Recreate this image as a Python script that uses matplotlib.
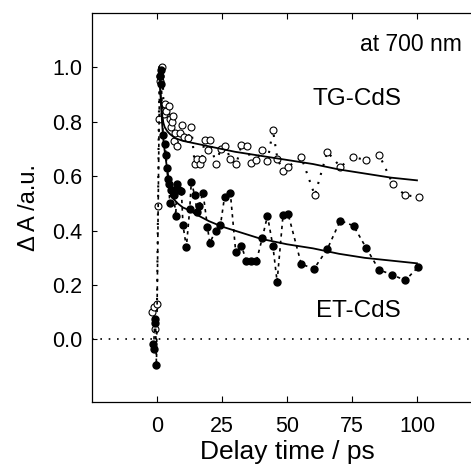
import matplotlib
matplotlib.use("Agg")
import matplotlib.pyplot as plt

plt.rcParams["font.family"] = ["Liberation Sans", "DejaVu Sans"]

# TG-CdS (open circles)
tg_t = [-2.0, -1.3, -0.8, 0.0, 0.4, 0.7, 1.0, 1.3, 2.1, 2.6, 3.2, 3.5, 4.5, 4.9,
        5.3, 5.8, 6.2, 6.6, 7.1, 7.6, 8.7, 9.6, 10.5, 11.9, 13.2, 14.5, 15.5,
        16.4, 17.3, 18.3, 19.6, 20.3, 22.6, 24.5, 26.3, 28.2, 30.5, 32.5, 34.6,
        36.3, 38.2, 40.5, 42.5, 44.6, 46.3, 48.5, 50.4, 55.5, 60.7, 65.5, 70.5,
        75.4, 80.5, 85.4, 90.8, 95.5, 100.7]
tg_a = [0.10, 0.12, 0.04, 0.13, 0.49, 0.81, 0.95, 0.97, 1.00, 0.83, 0.865, 0.84,
        0.86, 0.81, 0.78, 0.80, 0.82, 0.73, 0.76, 0.71, 0.76, 0.79, 0.745, 0.74,
        0.78, 0.645, 0.665, 0.645, 0.665, 0.735, 0.695, 0.735, 0.645, 0.70,
        0.71, 0.665, 0.645, 0.715, 0.71, 0.65, 0.66, 0.695, 0.655, 0.77, 0.665,
        0.62, 0.635, 0.67, 0.53, 0.69, 0.635, 0.67, 0.66, 0.68, 0.57, 0.53, 0.525]

# ET-CdS (filled circles)
et_t = [-1.5, -1.3, -0.9, -0.6, -0.2, 1.0, 1.5, 1.7, 2.3, 3.0, 3.5, 3.8, 4.2,
        4.6, 4.9, 5.5, 5.8, 6.5, 7.2, 7.7, 8.5, 9.4, 10.0, 11.3, 12.6, 13.2,
        14.5, 15.4, 16.2, 17.7, 19.4, 20.3, 22.6, 24.4, 26.0, 28.2, 30.3, 32.5,
        34.4, 36.3, 38.2, 40.5, 42.5, 44.6, 46.2, 48.5, 50.4, 55.5, 60.4, 65.5,
        70.5, 75.6, 80.5, 85.4, 90.5, 95.5, 100.4]
et_a = [-0.015, -0.035, 0.06, 0.075, -0.095, 0.97, 0.99, 0.94, 0.75, 0.72, 0.68,
        0.63, 0.59, 0.57, 0.50, 0.55, 0.55, 0.53, 0.455, 0.57, 0.55, 0.545, 0.42,
        0.34, 0.48, 0.58, 0.53, 0.47, 0.49, 0.54, 0.415, 0.355, 0.40, 0.42,
        0.525, 0.54, 0.32, 0.345, 0.287, 0.287, 0.287, 0.373, 0.455, 0.342,
        0.213, 0.459, 0.463, 0.277, 0.26, 0.332, 0.437, 0.418, 0.336, 0.256,
        0.238, 0.217, 0.266]

# fitted curves
tg_fit_t = [0.8, 1.2, 1.6, 2.0, 2.5, 3, 4, 5, 7, 10, 15, 20, 30, 40, 50, 60, 70,
            80, 90, 100]
tg_fit_a = [1.0, 0.93, 0.87, 0.82, 0.795, 0.78, 0.765, 0.755, 0.74, 0.73, 0.72,
            0.71, 0.69, 0.675, 0.66, 0.645, 0.625, 0.61, 0.595, 0.585]
et_fit_t = [0.8, 1.2, 1.6, 2.0, 2.5, 3, 4, 5, 6, 8, 10, 12.5, 15, 20, 25, 30, 40,
            50, 60, 65, 70, 80, 90, 100]
et_fit_a = [1.0, 0.93, 0.86, 0.79, 0.73, 0.69, 0.62, 0.56, 0.52, 0.50, 0.485,
            0.475, 0.46, 0.435, 0.415, 0.40, 0.37, 0.35, 0.335, 0.325, 0.315,
            0.30, 0.29, 0.28]

fig = plt.figure(figsize=(4.71, 4.73), dpi=100)
ax = fig.add_axes([0.1953, 0.150, 0.828, 0.8224])

ax.axhline(0, color="black", lw=1.2, ls=(0, (1, 4)))

ax.plot(tg_t, tg_a, color="black", lw=1.5, ls=(0, (1, 3.5)),
        marker="o", ms=5, mfc="white", mec="black", mew=0.8)
ax.plot(et_t, et_a, color="black", lw=1.2, ls=(0, (2, 2.5)),
        marker="o", ms=5, mfc="black", mec="black")
ax.plot(tg_fit_t, tg_fit_a, color="black", lw=1.3)
ax.plot(et_fit_t, et_fit_a, color="black", lw=1.3)

ax.set_xlim(-25, 125)
ax.set_ylim(-0.23, 1.2)
ax.set_xticks([0, 25, 50, 75, 100])
ax.set_yticks([0.0, 0.2, 0.4, 0.6, 0.8, 1.0])
ax.set_yticklabels(["0.0", "0.2", "0.4", "0.6", "0.8", "1.0"])
ax.tick_params(axis="x", direction="in", top=True, length=4, width=0.8,
               labelsize=15.5, pad=10)
ax.tick_params(axis="y", direction="in", length=3.5, width=0.8,
               labelsize=15.5, pad=7)
for s in ax.spines.values():
    s.set_linewidth(0.9)

ax.set_xlabel("Delay time / ps", fontsize=19, labelpad=2)
ax.set_ylabel("Δ A /a.u.", fontsize=17, labelpad=9)

ax.text(97.6, 1.086, "at 700 nm", fontsize=16.5, ha="center", va="center")
ax.text(77, 0.883, "TG-CdS", fontsize=17.5, ha="center", va="center")
ax.text(77.6, 0.105, "ET-CdS", fontsize=17.5, ha="center", va="center")

fig.savefig("out.png", dpi=100)
